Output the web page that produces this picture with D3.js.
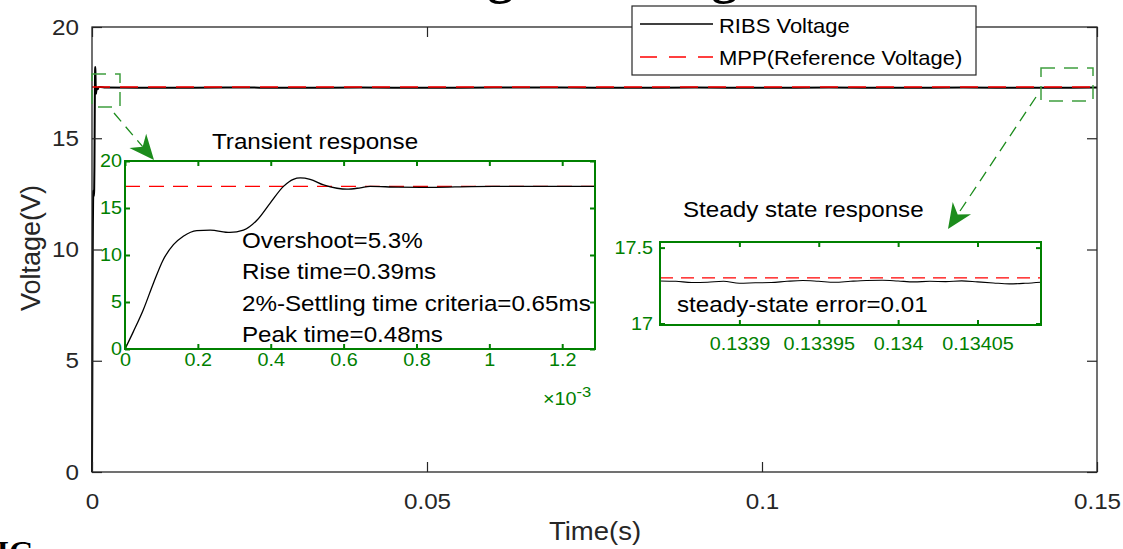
<!DOCTYPE html>
<html><head><meta charset="utf-8">
<script src="https://cdn.jsdelivr.net/npm/d3@7"></script>
<style>body{margin:0;background:#fff} svg{display:block;font-family:"Liberation Sans",Arial,Helvetica,sans-serif}</style>
</head><body><svg id="c" width="1123" height="549"></svg>
<script>
// ---------------- data ----------------
const transientTimeMs = [0, 0.023, 0.05, 0.078, 0.105, 0.133, 0.16, 0.197, 0.234, 0.288, 0.325, 0.362, 0.398, 0.435, 0.462, 0.481, 0.508, 0.545, 0.582, 0.609, 0.646, 0.673, 0.75, 0.85, 0.95, 1.05, 1.15, 1.29];
const transientVoltage = [0, 1.85, 4.15, 7.0, 9.5, 11.1, 12.0, 12.6, 12.65, 12.4, 12.65, 13.7, 15.5, 17.3, 18.05, 18.2, 18.05, 17.45, 17.1, 17.0, 17.15, 17.3, 17.22, 17.2, 17.28, 17.3, 17.3, 17.3];
const steadyTime = [0.002, 0.01, 0.02, 0.03, 0.04, 0.05, 0.06, 0.07, 0.08, 0.09, 0.1, 0.11, 0.12, 0.13, 0.14, 0.15];
const steadyVoltage = [17.28, 17.27, 17.28, 17.27, 17.28, 17.27, 17.28, 17.28, 17.27, 17.28, 17.27, 17.28, 17.27, 17.28, 17.27, 17.28];
const zoomTime = [0.13385, 0.13386, 0.13387, 0.13388, 0.13389, 0.1339, 0.13391, 0.13392, 0.13393, 0.13394, 0.13395, 0.13396, 0.13397, 0.13398, 0.13399, 0.134, 0.13401, 0.13402, 0.13403, 0.13404, 0.13405, 0.13406, 0.13407, 0.13408, 0.13409];
const zoomVoltage = [17.28, 17.278, 17.27, 17.272, 17.278, 17.265, 17.268, 17.27, 17.278, 17.283, 17.278, 17.272, 17.278, 17.283, 17.285, 17.28, 17.274, 17.278, 17.276, 17.281, 17.274, 17.267, 17.261, 17.265, 17.272];
const referenceVoltage = 17.3;
const mainXTicks = [0, 0.05, 0.1, 0.15];
const mainYTicks = [0, 5, 10, 15, 20];
const insetXTicks = [0, 0.2, 0.4, 0.6, 0.8, 1, 1.2];
const insetYTicks = [0, 5, 10, 15, 20];
const zoomXTicks = [0.1339, 0.13395, 0.134, 0.13405];
const zoomYTicks = [17, 17.5];
const legendLabels = ["RIBS Voltage", "MPP(Reference Voltage)"];
const annotations = ["Overshoot=5.3%", "Rise time=0.39ms", "2%-Settling time criteria=0.65ms", "Peak time=0.48ms"];

// ---------------- setup ----------------
const SX = 1.1;
const AX = "#262626", GREEN = "#008000", BOXG = "#3f9f3f", ARROWG = "#1c8c1c";
const svg = d3.select("#c");
svg.append("rect").attr("width", 1123).attr("height", 549).attr("fill", "#fff");

// cut-off title and caption fragments (cropped in the reference too)
svg.append("text").attr("x", 371).attr("y", -7).attr("font-family", "'Liberation Serif',serif")
  .attr("font-weight", "bold").attr("font-size", 52).attr("fill", "#000").attr("class", "nostretch").text("Voltage tracking");
svg.append("text").attr("x", -23).attr("y", 563).attr("font-family", "'Liberation Serif',serif")
  .attr("font-weight", "bold").attr("font-size", 32).attr("fill", "#000").attr("class", "nostretch").text("FIG");

function axesBox(g, x, y, xt, yt, o) {
  const [x0, x1] = x.range(), [y0, y1] = y.range();
  const col = o.color;
  const b = g.append("g").attr("transform", `translate(0,${y0})`)
    .call(d3.axisBottom(x).tickValues(xt).tickSizeInner(-o.tl).tickSizeOuter(0).tickPadding(o.xpad).tickFormat(o.xf));
  const l = g.append("g").attr("transform", `translate(${x0},0)`)
    .call(d3.axisLeft(y).tickValues(yt).tickSizeInner(-o.tl).tickSizeOuter(0).tickPadding(o.ypad).tickFormat(o.yf));
  const t = g.append("g").attr("transform", `translate(0,${y1})`)
    .call(d3.axisTop(x).tickValues(xt).tickSizeInner(-o.tl).tickSizeOuter(0).tickFormat(""));
  const r = g.append("g").attr("transform", `translate(${x1},0)`)
    .call(d3.axisRight(y).tickValues(yt).tickSizeInner(-o.tl).tickSizeOuter(0).tickFormat(""));
  [b, l, t, r].forEach(a => {
    a.select(".domain").remove();
    a.selectAll(".tick line").attr("stroke", col).attr("stroke-width", o.tw);
    a.selectAll("text").attr("fill", col).attr("font-size", o.fs).attr("font-family", null);
    a.attr("font-family", null).attr("font-size", null);
  });
  g.append("rect").attr("x", x0).attr("y", y1).attr("width", x1 - x0).attr("height", y0 - y1)
    .attr("fill", "none").attr("stroke", col).attr("stroke-width", o.fw);
}

// ---------------- main chart ----------------
const x = d3.scaleLinear().domain([0, 0.15]).range([92, 1097]);
const y = d3.scaleLinear().domain([0, 20]).range([472, 27]);
const mainT = transientTimeMs.map(t => t / 1000).concat(steadyTime);
const mainV = transientVoltage.concat(steadyVoltage);
const mainData = mainT.map((t, i) => [t, mainV[i]]);
const gm = svg.append("g");
gm.append("path").datum(mainData).attr("fill", "none").attr("stroke", "#000").attr("stroke-width", 2)
  .attr("d", d3.line().x(d => x(d[0])).y(d => y(d[1])).curve(d3.curveMonotoneX));
gm.append("path").datum([[0, referenceVoltage], [0.15, referenceVoltage]]).attr("fill", "none")
  .attr("stroke", "#ff0000").attr("stroke-width", 1.5).attr("stroke-dasharray", "18,10")
  .attr("d", d3.line().x(d => x(d[0])).y(d => y(d[1])));
axesBox(gm, x, y, mainXTicks, mainYTicks, {color: AX, tl: 10, tw: 1.2, fw: 1.3, fs: 22, xpad: 21, ypad: 13, xf: d => String(d), yf: d => String(d)});

gm.append("text").attr("x", 595).attr("y", 540).attr("text-anchor", "middle").attr("font-size", 25).attr("fill", AX).text("Time(s)");
gm.append("text").attr("class", "nostretch").attr("transform", "translate(40,248) rotate(-90)").attr("text-anchor", "middle")
  .attr("font-size", 27).attr("fill", AX).text("Voltage(V)");

// legend
const lg = svg.append("g");
lg.append("rect").attr("x", 632).attr("y", 6).attr("width", 344).attr("height", 69).attr("fill", "#fff").attr("stroke", AX).attr("stroke-width", 1.2);
lg.append("line").attr("x1", 640).attr("x2", 713).attr("y1", 24).attr("y2", 24).attr("stroke", "#000").attr("stroke-width", 1.3);
lg.append("line").attr("x1", 640).attr("x2", 713).attr("y1", 57).attr("y2", 57).attr("stroke", "#ff0000").attr("stroke-width", 1.3).attr("stroke-dasharray", "17,12");
lg.selectAll("text.lab").data(legendLabels).join("text").attr("class", "lab").attr("x", 719).attr("y", (d, i) => [33, 65][i])
  .attr("font-size", 20).attr("fill", "#000").text(d => d);

// zoom boxes and arrows
svg.append("rect").attr("x", 92).attr("y", 74).attr("width", 28).attr("height", 33).attr("fill", "none")
  .attr("stroke", BOXG).attr("stroke-width", 1.5).attr("stroke-dasharray", "14,9");
svg.append("rect").attr("x", 1041).attr("y", 68).attr("width", 52).attr("height", 33).attr("fill", "none")
  .attr("stroke", BOXG).attr("stroke-width", 1.5).attr("stroke-dasharray", "14,9");

function arrow(x1, y1, x2, y2) {
  const ang = Math.atan2(y2 - y1, x2 - x1), L = 25, W = 22;
  const len = Math.hypot(x2 - x1, y2 - y1);
  const ex = x1 + (len - L * 0.7) * Math.cos(ang), ey = y1 + (len - L * 0.7) * Math.sin(ang);
  svg.append("line").attr("x1", x1).attr("y1", y1).attr("x2", ex).attr("y2", ey)
    .attr("stroke", ARROWG).attr("stroke-width", 1.3).attr("stroke-dasharray", "11,7");
  const pts = [[0, 0], [-L, -W / 2], [-L * 0.7, 0], [-L, W / 2]].map(([px, py]) => [
    x2 + px * Math.cos(ang) - py * Math.sin(ang), y2 + px * Math.sin(ang) + py * Math.cos(ang)]);
  svg.append("polygon").attr("points", pts.map(p => p.join(",")).join(" ")).attr("fill", ARROWG);
}
arrow(114, 113, 154, 160);
arrow(1036, 97, 948, 229);

// ---------------- inset 1: transient ----------------
const x1s = d3.scaleLinear().domain([0, 1.29]).range([125, 595]);
const y1s = d3.scaleLinear().domain([0, 20]).range([349, 161]);
const g1 = svg.append("g");
g1.append("rect").attr("x", 125).attr("y", 161).attr("width", 470).attr("height", 188).attr("fill", "#fff");
g1.append("path").datum([[0, referenceVoltage], [1.29, referenceVoltage]]).attr("fill", "none")
  .attr("stroke", "#ff0000").attr("stroke-width", 1.3).attr("stroke-dasharray", "15,9")
  .attr("d", d3.line().x(d => x1s(d[0])).y(d => y1s(d[1])));
g1.append("path").datum(transientTimeMs.map((t, i) => [t, transientVoltage[i]])).attr("fill", "none")
  .attr("stroke", "#000").attr("stroke-width", 1.3)
  .attr("d", d3.line().x(d => x1s(d[0])).y(d => y1s(d[1])).curve(d3.curveMonotoneX));
axesBox(g1, x1s, y1s, insetXTicks, insetYTicks, {color: GREEN, tl: 5, tw: 2, fw: 2, fs: 18, xpad: 4, ypad: 3, xf: d => String(d), yf: d => String(d)});
const e3 = g1.append("text").attr("x", 543).attr("y", 405).attr("font-size", 18).attr("fill", GREEN);
e3.append("tspan").text("\u00d710");
e3.append("tspan").attr("dy", -8).attr("font-size", 15).text("-3");
g1.append("text").attr("x", 212).attr("y", 149).attr("font-size", 22).attr("fill", "#000").text("Transient response");
g1.selectAll("text.ann").data(annotations).join("text").attr("class", "ann").attr("x", 242)
  .attr("y", (d, i) => [248, 279, 311, 342][i]).attr("font-size", 22).attr("fill", "#000").text(d => d);

// ---------------- inset 2: steady state ----------------
const x2s = d3.scaleLinear().domain([0.13385, 0.13409]).range([660, 1041]);
const y2s = d3.scaleLinear().domain([16.99, 17.537]).range([325, 242]);
const g2 = svg.append("g");
g2.append("rect").attr("x", 660).attr("y", 242).attr("width", 381).attr("height", 83).attr("fill", "#fff");
g2.append("path").datum([[0.13385, referenceVoltage], [0.13409, referenceVoltage]]).attr("fill", "none")
  .attr("stroke", "#ff0000").attr("stroke-width", 1.3).attr("stroke-dasharray", "13,8")
  .attr("d", d3.line().x(d => x2s(d[0])).y(d => y2s(d[1])));
g2.append("path").datum(zoomTime.map((t, i) => [t, zoomVoltage[i]])).attr("fill", "none")
  .attr("stroke", "#000").attr("stroke-width", 1.1)
  .attr("d", d3.line().x(d => x2s(d[0])).y(d => y2s(d[1])).curve(d3.curveMonotoneX));
axesBox(g2, x2s, y2s, zoomXTicks, zoomYTicks, {color: GREEN, tl: 5, tw: 2, fw: 2, fs: 18, xpad: 12, ypad: 7, xf: d => String(d), yf: d => String(d)});
g2.append("text").attr("x", 683).attr("y", 217).attr("font-size", 22).attr("fill", "#000").text("Steady state response");
g2.append("text").attr("x", 677).attr("y", 312).attr("font-size", 22).attr("fill", "#000").text("steady-state error=0.01");

// horizontal stretch of text to match the reference's aspect
svg.selectAll("text").filter(function () { return !this.classList.contains("nostretch"); }).each(function () {
  const tx = +this.getAttribute("x") || 0, ty = +this.getAttribute("y") || 0;
  this.setAttribute("transform", `translate(${tx},${ty}) scale(${SX},1) translate(${-tx},${-ty})`);
});
</script></body></html>
